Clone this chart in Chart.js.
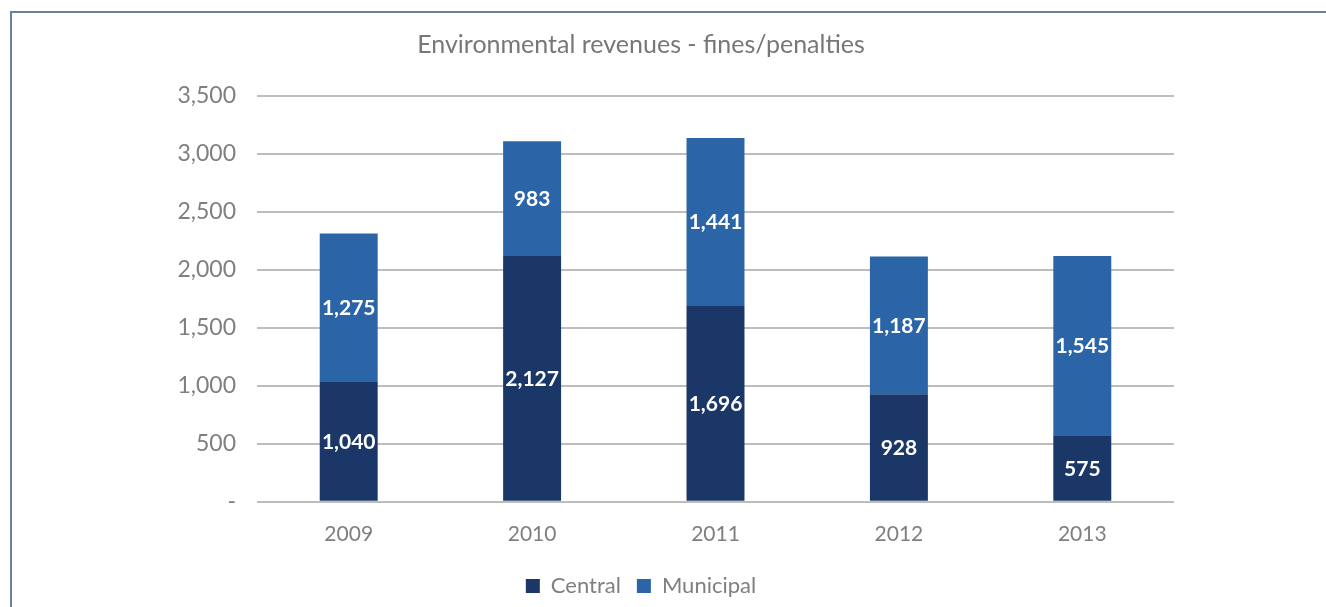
<!DOCTYPE html>
<html>
<head>
<meta charset="utf-8">
<script src="https://cdn.jsdelivr.net/npm/chart.js@4.4.1/dist/chart.umd.min.js"></script>
<style>
  html, body { margin: 0; padding: 0; background: #ffffff; }
  #wrap { position: relative; width: 1326px; height: 607px; overflow: hidden; }
  #frameTop { position: absolute; left: 10px; top: 11px; width: 1316px; height: 2px; background: #6a7e9e; }
  #frameLeft { position: absolute; left: 10px; top: 11px; width: 2px; height: 596px; background: #6a7e9e; }
  canvas { position: absolute; left: 0; top: 0; }
</style>
</head>
<body>
<div id="wrap">
  <canvas id="c" width="1326" height="607"></canvas>
  <div id="frameTop"></div>
  <div id="frameLeft"></div>
</div>
<script>
const titleText = 'Environmental revenues - fines/penalties';
const years = ['2009', '2010', '2011', '2012', '2013'];
const central = [1040, 2127, 1696, 928, 575];
const municipal = [1275, 983, 1441, 1187, 1545];
const yTicks = [0, 500, 1000, 1500, 2000, 2500, 3000, 3500];

const FONT = 'Lato, "Open Sans", sans-serif';

const fmt = v => v === 0 ? '-' : Number(v).toLocaleString('en-US');

const labelPlugin = {
  id: 'barLabels',
  afterDatasetsDraw(chart) {
    const ctx = chart.ctx;
    ctx.save();
    ctx.fillStyle = '#ffffff';
    ctx.font = 'bold 21px ' + FONT;
    ctx.textAlign = 'center';
    ctx.textBaseline = 'middle';
    chart.data.datasets.forEach((ds, i) => {
      const meta = chart.getDatasetMeta(i);
      meta.data.forEach((el, j) => {
        const p = el.getCenterPoint();
        ctx.fillText(fmt(ds.data[j]), p.x, p.y + 1);
      });
    });
    ctx.restore();
  }
};

new Chart(document.getElementById('c'), {
  type: 'bar',
  data: {
    labels: years,
    datasets: [
      { label: 'Central', data: central, backgroundColor: '#1b3768', borderWidth: 0, barPercentage: 0.316, categoryPercentage: 1 },
      { label: 'Municipal', data: municipal, backgroundColor: '#2b65a7', borderWidth: 0, barPercentage: 0.316, categoryPercentage: 1 }
    ]
  },
  options: {
    responsive: false,
    animation: false,
    devicePixelRatio: 1,
    layout: { padding: { left: 108, right: 152, top: 0, bottom: 0 } },
    plugins: {
      title: {
        display: true,
        text: titleText,
        color: '#777777',
        font: { family: FONT, size: 25, weight: 'normal' },
        padding: { top: 30, bottom: 36 }
      },
      legend: {
        position: 'bottom',
        labels: {
          color: '#7f7f7f',
          font: { family: FONT, size: 22 },
          boxWidth: 14,
          boxHeight: 14,
          padding: 16
        }
      },
      tooltip: { enabled: false }
    },
    scales: {
      x: {
        stacked: true,
        grid: { display: false },
        border: { display: false },
        ticks: { color: '#7f7f7f', font: { family: FONT, size: 21 }, padding: 12 }
      },
      y: {
        stacked: true,
        min: 0,
        max: 3500,
        afterFit(scale) { scale.width = 149; },
        afterBuildTicks(scale) { scale.ticks = yTicks.map(v => ({ value: v })); },
        grid: { color: '#bdbdbd', lineWidth: 2, drawTicks: false },
        border: { display: false },
        ticks: { color: '#7f7f7f', font: { family: FONT, size: 23 }, padding: 21, callback: v => fmt(v) }
      }
    }
  },
  plugins: [labelPlugin]
});
</script>
</body>
</html>
